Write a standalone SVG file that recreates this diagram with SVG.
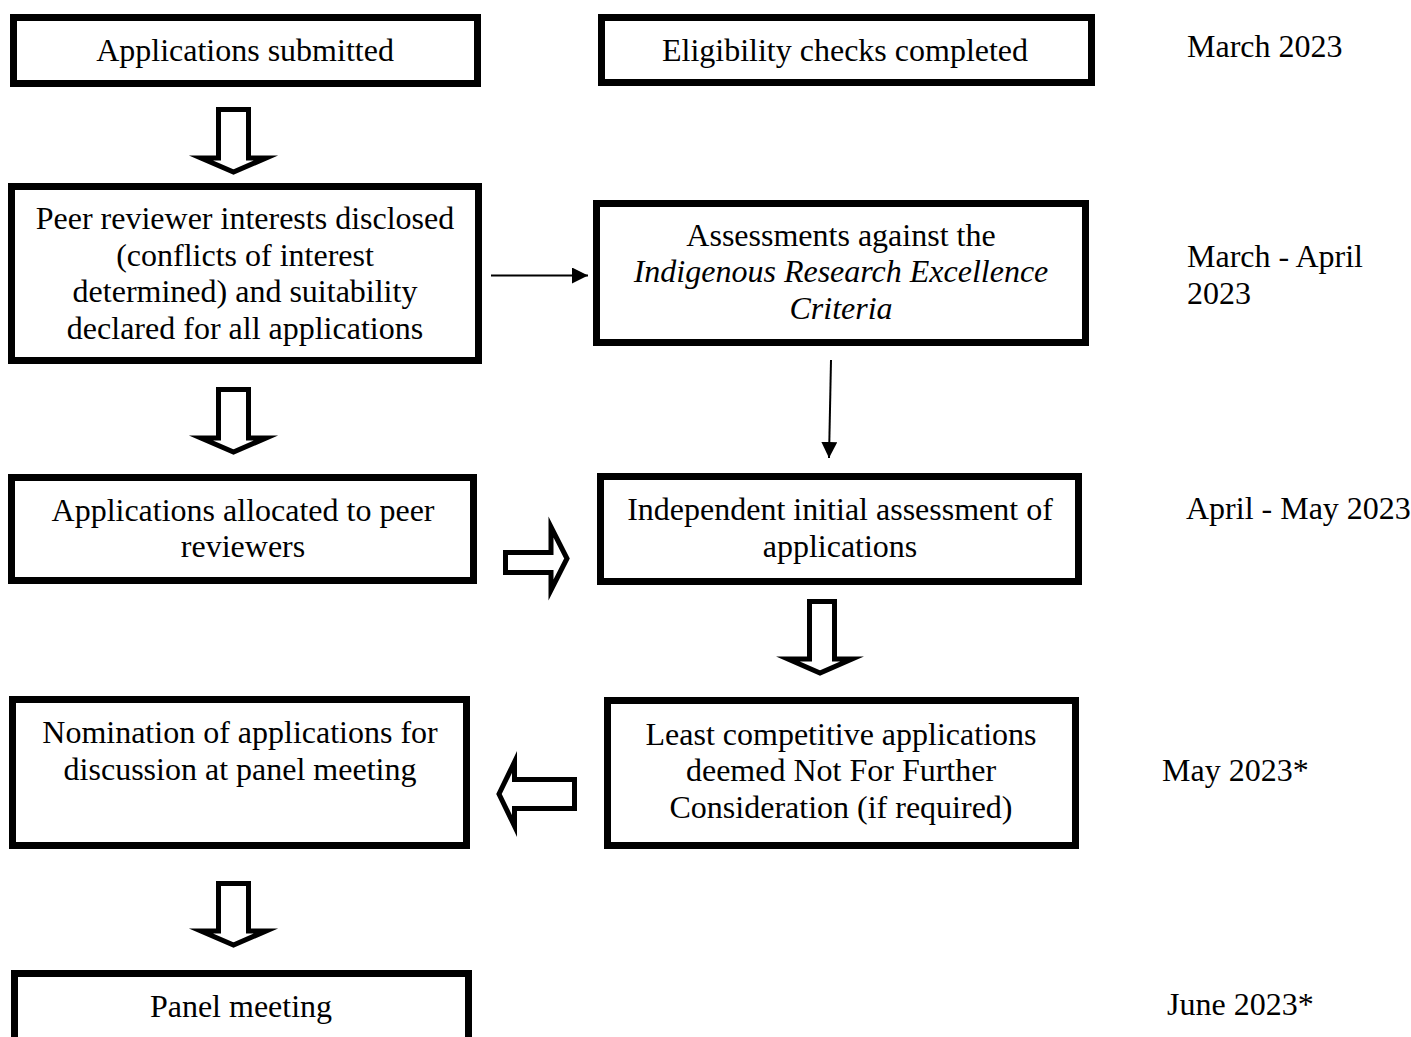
<svg xmlns="http://www.w3.org/2000/svg" width="1411" height="1037" viewBox="0 0 1411 1037">
<style>
.box{fill:#fff;stroke:#000;stroke-width:7}
.t{font-family:"Liberation Serif","Times New Roman",serif;font-size:32px;fill:#000;text-anchor:middle}
.d{font-family:"Liberation Serif","Times New Roman",serif;font-size:32px;fill:#000}
.it{font-style:italic}
.blk{fill:#fff;stroke:#000;stroke-width:5;stroke-miterlimit:10}
.thin{stroke:#000;stroke-width:2;fill:none}
</style>
<defs>
<marker id="ah2" viewBox="0 0 16 16" refX="16" refY="8" markerWidth="16" markerHeight="16" markerUnits="userSpaceOnUse" orient="auto">
<path d="M0,0 L16,8 L0,16 z" fill="#000"/>
</marker>
</defs>
<rect width="1411" height="1037" fill="#fff"/>

<g id="connectors">
<polygon class="blk" points="218.5,109.5 248.5,109.5 248.5,158 266,158 233.5,172 201,158 218.5,158"/>
<polygon class="blk" points="218.5,389.5 248.5,389.5 248.5,438 266,438 233.5,452 201,438 218.5,438"/>
<polygon class="blk" points="809.5,601.5 834.5,601.5 834.5,659 852,659 820,673 788,659 809.5,659"/>
<polygon class="blk" points="218.5,883.5 248.5,883.5 248.5,931 266,931 233.5,945 201,931 218.5,931"/>
<polygon class="blk" points="505.5,552.5 551,552.5 551,527 567,558.5 551,590 551,572.5 505.5,572.5"/>
<polygon class="blk" points="574.5,779.5 514.5,779.5 514.5,762 499,794 514.5,826 514.5,808.5 574.5,808.5"/>
<line class="thin" x1="491" y1="275.5" x2="588" y2="275.5" marker-end="url(#ah2)"/>
<line class="thin" x1="831" y1="360" x2="829" y2="458" marker-end="url(#ah2)"/>
</g>

<g id="n1">
<rect class="box" x="13.5" y="17.5" width="464" height="66"/>
<text class="t" x="245" y="61">Applications submitted</text>
</g>
<g id="n2">
<rect class="box" x="601.5" y="17.5" width="490" height="65"/>
<text class="t" x="845" y="61">Eligibility checks completed</text>
</g>
<g id="n3">
<rect class="box" x="11.5" y="186.5" width="467" height="174"/>
<text class="t" x="245" y="229">Peer reviewer interests disclosed</text>
<text class="t" x="245" y="266">(conflicts of interest</text>
<text class="t" x="245" y="302">determined) and suitability</text>
<text class="t" x="245" y="339">declared for all applications</text>
</g>
<g id="n4">
<rect class="box" x="596.5" y="203.5" width="489" height="139"/>
<text class="t" x="841" y="246">Assessments against the</text>
<text class="t it" x="841" y="282">Indigenous Research Excellence</text>
<text class="t it" x="841" y="319">Criteria</text>
</g>
<g id="n5">
<rect class="box" x="11.5" y="477.5" width="462" height="103"/>
<text class="t" x="243" y="521">Applications allocated to peer</text>
<text class="t" x="243" y="557">reviewers</text>
</g>
<g id="n6">
<rect class="box" x="600.5" y="476.5" width="478" height="105"/>
<text class="t" x="840" y="520">Independent initial assessment of</text>
<text class="t" x="840" y="557">applications</text>
</g>
<g id="n7">
<rect class="box" x="12.5" y="699.5" width="454" height="146"/>
<text class="t" x="240" y="743">Nomination of applications for</text>
<text class="t" x="240" y="780">discussion at panel meeting</text>
</g>
<g id="n8">
<rect class="box" x="607.5" y="700.5" width="468" height="145"/>
<text class="t" x="841" y="745">Least competitive applications</text>
<text class="t" x="841" y="781">deemed Not For Further</text>
<text class="t" x="841" y="818">Consideration (if required)</text>
</g>
<g id="n9">
<rect class="box" x="14.5" y="973.5" width="454" height="90"/>
<text class="t" x="241" y="1017">Panel meeting</text>
</g>

<g id="dates">
<text class="d" x="1187" y="57">March 2023</text>
<text class="d" x="1187" y="267">March - April</text>
<text class="d" x="1187" y="304">2023</text>
<text class="d" x="1186" y="519">April - May 2023</text>
<text class="d" x="1162" y="781">May 2023*</text>
<text class="d" x="1167" y="1015">June 2023*</text>
</g>
</svg>
